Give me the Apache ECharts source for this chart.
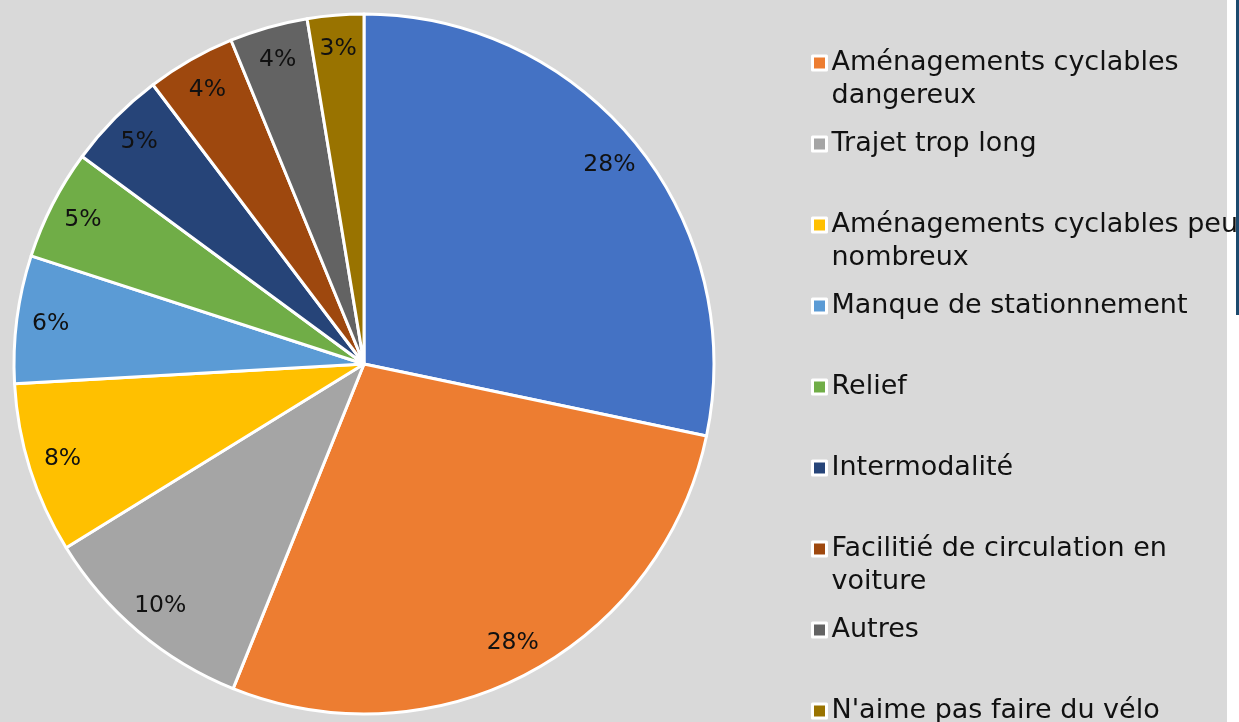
<!DOCTYPE html>
<html><head><meta charset="utf-8">
<script src="https://cdn.jsdelivr.net/npm/echarts@6/dist/echarts.min.js"></script>
<style>html,body{margin:0;padding:0;background:#fff}#c{width:1239px;height:722px}</style>
</head><body><div id="c"></div>
<script>
const categories = ["Insécurité routière", "Aménagements cyclables dangereux", "Trajet trop long", "Aménagements cyclables peu nombreux", "Manque de stationnement", "Relief", "Intermodalité", "Facilitié de circulation en voiture", "Autres", "N'aime pas faire du vélo"];
const values = [28.3, 27.8, 10.1, 7.9, 5.9, 5.1, 4.6, 4.1, 3.6, 2.6];
const legendLabels = ["Insécurité routière", "Aménagements cyclables\ndangereux", "Trajet trop long", "Aménagements cyclables peu\nnombreux", "Manque de stationnement", "Relief", "Intermodalité", "Facilitié de circulation en\nvoiture", "Autres", "N'aime pas faire du vélo"];
const colors = ["#4472C4", "#ED7D31", "#A5A5A5", "#FFC000", "#5B9BD5", "#70AD47", "#264478", "#9E480E", "#636363", "#997300"];

const FONT = "DejaVu Sans";
const data = categories.map((n, i) => ({ name: n, value: values[i], itemStyle: { color: colors[i] } }));

const legends = categories.map((n, i) => {
  const twoLine = legendLabels[i].indexOf('\n') >= 0;
  const cy = 63 + (i - 1) * 81;
  const half = twoLine ? 49.5 : 16.5;
  return {
    orient: 'vertical',
    left: 811,
    top: cy - half,
    padding: 0,
    itemWidth: 14,
    itemHeight: 14,
    itemGap: 0,
    icon: 'rect',
    selectedMode: false,
    formatter: () => (twoLine ? ' \n' : '') + legendLabels[i],
    textStyle: {
      fontFamily: FONT, fontSize: 27, color: '#111', lineHeight: 33
    },
    data: [{ name: n, itemStyle: { color: colors[i], borderColor: '#fff', borderWidth: 3 } }]
  };
});

const chart = echarts.init(document.getElementById('c'), null, { renderer: 'canvas' });
chart.setOption({
  animation: false,
  backgroundColor: '#ffffff',
  graphic: [
    { type: 'rect', z: -10, shape: { x: 0, y: 0, width: 1227, height: 722 }, style: { fill: '#D9D9D9' } },
    { type: 'rect', z: 100, shape: { x: 1236, y: 0, width: 3, height: 315 }, style: { fill: '#1C4A6E' } }
  ],
  legend: legends,
  series: [
    {
      type: 'pie',
      center: [364, 364],
      radius: [0, 350],
      startAngle: 90,
      clockwise: true,
      label: { show: false },
      labelLine: { show: false },
      emphasis: { scale: false },
      itemStyle: { borderColor: '#ffffff', borderWidth: 3 },
      data: data
    },
    {
      type: 'pie',
      center: [364, 364],
      radius: [276, 350],
      startAngle: 90,
      clockwise: true,
      silent: true,
      itemStyle: { color: 'rgba(0,0,0,0)', borderWidth: 0 },
      labelLine: { show: false },
      label: {
        show: true,
        position: 'inside',
        fontFamily: FONT,
        fontSize: 23.5,
        color: '#111',
        formatter: p => Math.round(p.percent) + '%'
      },
      data: categories.map((n, i) => ({ name: n, value: values[i] }))
    }
  ]
});
</script></body></html>
